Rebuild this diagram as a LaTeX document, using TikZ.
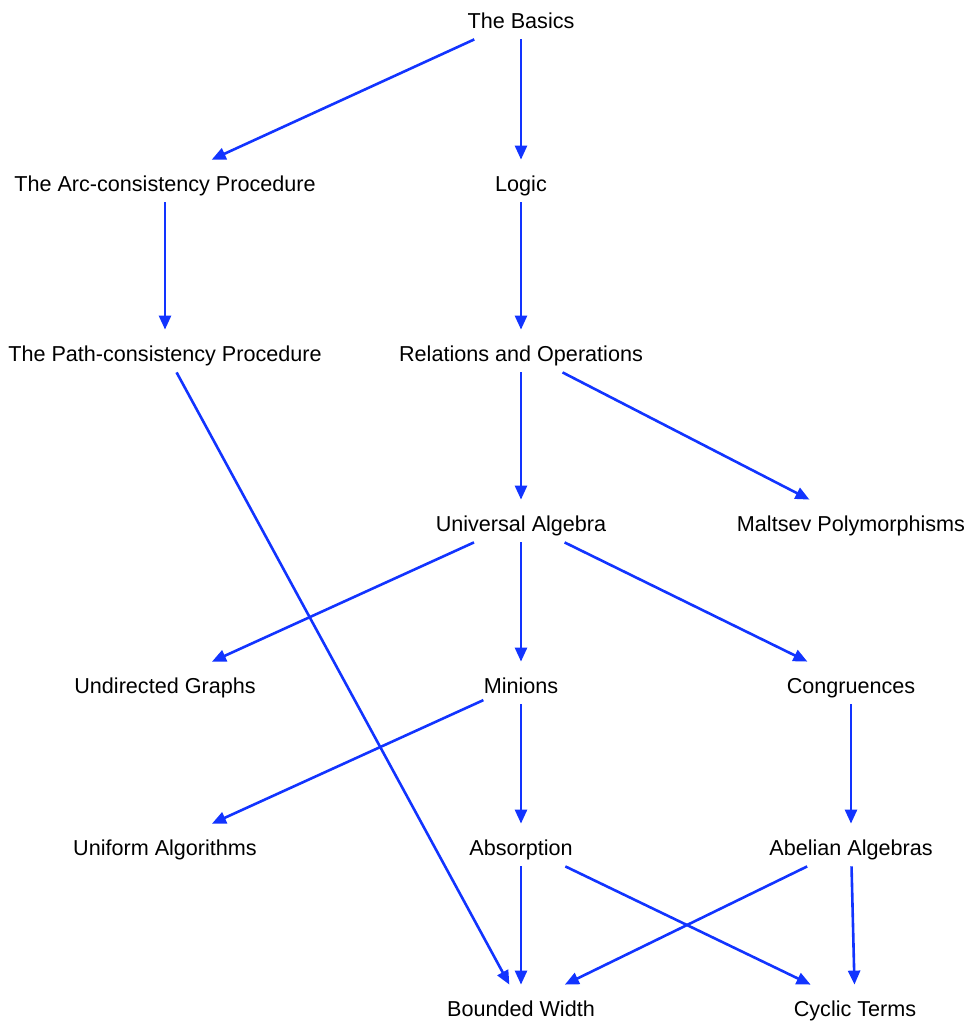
\documentclass[tikz,border=0pt]{standalone}
\usepackage{fontspec}
\setmainfont{Liberation Sans}
\usetikzlibrary{positioning,arrows.meta}
\definecolor{linkblue}{RGB}{18,52,255}

\begin{document}
\begin{tikzpicture}[x=0.5pt, y=-0.5pt, on grid,
  topic/.style={inner sep=0pt, text height=15.5pt, text depth=5.5pt,
    font=\fontsize{10.8pt}{12pt}\selectfont},
  dep/.style={draw=linkblue, line width=1.3pt,
    -{Triangle[length=7pt, width=6pt]}}]
\useasboundingbox (0,0) rectangle (969,1023);

% First rows %
\node[topic] (basics) at (521,18) {The Basics};
\node[topic, below=81.5pt of basics] (logic) {Logic};
\node[topic, left=178pt of logic] (arc) {The Arc-consistency Procedure};
\node[topic, below=85pt of logic] (rel) {Relations and Operations};
\node[topic, left=178pt of rel] (path) {The Path-consistency Procedure};

% Algebra rows %
\node[topic, below=85pt of rel] (ua) {Universal Algebra};
\node[topic, right=165pt of ua] (malt) {Maltsev Polymorphisms};
\node[topic, below=81pt of ua] (minions) {Minions};
\node[topic, left=178pt of minions] (graphs) {Undirected Graphs};
\node[topic, right=165pt of minions] (cong) {Congruences};
\node[topic, below=81pt of minions] (absorp) {Absorption};
\node[topic, left=178pt of absorp] (unif) {Uniform Algorithms};
\node[topic, right=165pt of absorp] (abel) {Abelian Algebras};

% Bottom row %
\node[topic, below=80.5pt of absorp] (bw) {Bounded Width};
\node[topic, right=167pt of bw] (cyclic) {Cyclic Terms};

% Edges %
\draw[dep] (basics) -- (arc);
\draw[dep] (basics) -- (logic);
\draw[dep] (arc) -- (path);
\draw[dep] (logic) -- (rel);
\draw[dep] (path) -- (bw);
\draw[dep] (rel) -- (ua);
\draw[dep] (rel) -- (malt);

\draw[dep] (ua) -- (graphs);
\draw[dep] (ua) -- (minions);
\draw[dep] (ua) -- (cong);
\draw[dep] (minions) -- (unif);
\draw[dep] (minions) -- (absorp);
\draw[dep] (cong) -- (abel);

\draw[dep] (absorp) -- (bw);
\draw[dep] (absorp) -- (cyclic);
\draw[dep] (abel) -- (bw);
\draw[dep] (abel) -- (cyclic);

\end{tikzpicture}
\end{document}
